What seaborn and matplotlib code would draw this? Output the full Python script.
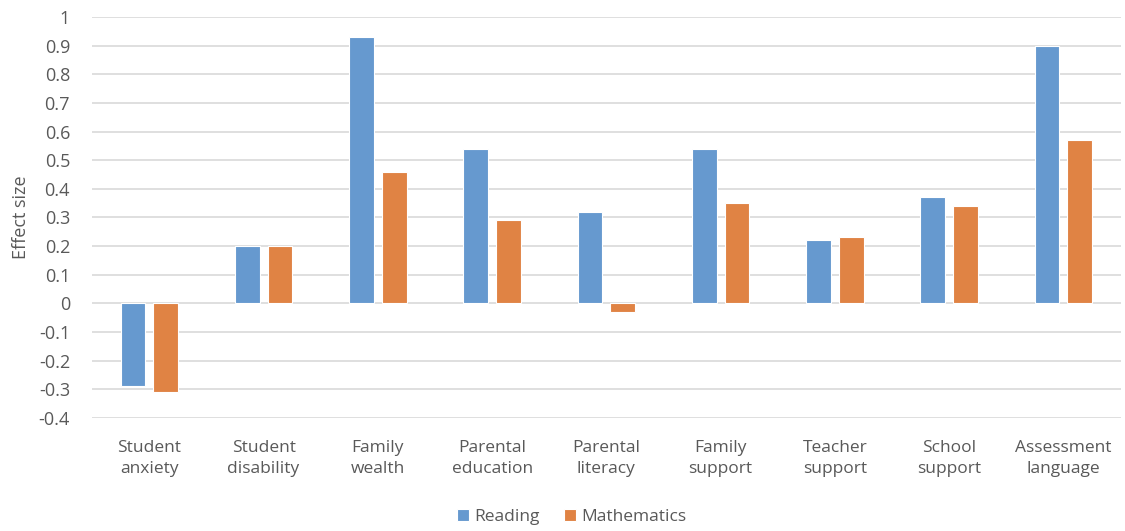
import matplotlib
matplotlib.use("Agg")
import matplotlib.pyplot as plt
import seaborn as sns
import pandas as pd

categories = ["Student\nanxiety", "Student\ndisability", "Family\nwealth", "Parental\neducation",
              "Parental\nliteracy", "Family\nsupport", "Teacher\nsupport", "School\nsupport",
              "Assessment\nlanguage"]
reading = [-0.29, 0.20, 0.93, 0.54, 0.32, 0.54, 0.22, 0.37, 0.90]
mathematics = [-0.31, 0.20, 0.46, 0.29, -0.03, 0.35, 0.23, 0.34, 0.57]
series = ["Reading", "Mathematics"]
yticks = [-0.4, -0.3, -0.2, -0.1, 0, 0.1, 0.2, 0.3, 0.4, 0.5, 0.6, 0.7, 0.8, 0.9, 1]

df = pd.DataFrame({
    "Factor": categories * 2,
    "Effect size": reading + mathematics,
    "Subject": [series[0]] * len(categories) + [series[1]] * len(categories),
})

sns.set_style("white")
plt.rcParams["font.family"] = ["Open Sans", "DejaVu Sans"]

fig = plt.figure(figsize=(11.25, 5.31), dpi=100)
ax = fig.add_axes([0.082, 0.213, 0.914, 0.755])

palette = {"Reading": "#6699CF", "Mathematics": "#E08344"}
sns.barplot(data=df, x="Factor", y="Effect size", hue="Subject", palette=palette,
            width=0.575, gap=0.25, ax=ax, edgecolor="white", linewidth=0.8,
            saturation=1, zorder=3)

grey = "#595959"
ax.set_ylim(-0.4, 1.0)
ax.set_yticks(yticks)
ax.set_yticklabels([f"{t:g}" for t in yticks])
ax.set_xlim(-0.5, len(categories) - 0.5)
ax.yaxis.grid(True, color="#D9D9D9", linewidth=1.2, zorder=0)
ax.set_axisbelow(True)
for s in ax.spines.values():
    s.set_visible(False)
ax.tick_params(axis="both", length=0, colors=grey, labelsize=12.5)
ax.tick_params(axis="y", labelsize=13, pad=16)
ax.tick_params(axis="x", pad=16)
for lbl in ax.get_xticklabels():
    lbl.set_linespacing(1.4)
ax.set_xlabel("")
ax.set_ylabel("Effect size", color=grey, fontsize=13, labelpad=6)

handles, labels = ax.get_legend_handles_labels()
ax.get_legend().remove()
fig.legend(handles, labels, loc="center", bbox_to_anchor=(0.508, 0.026), ncol=2,
           frameon=False, fontsize=12.5, handlelength=0.7, handleheight=0.7,
           handletextpad=0.3, columnspacing=1.4, labelcolor=grey)

fig.savefig("out.png", dpi=100)
